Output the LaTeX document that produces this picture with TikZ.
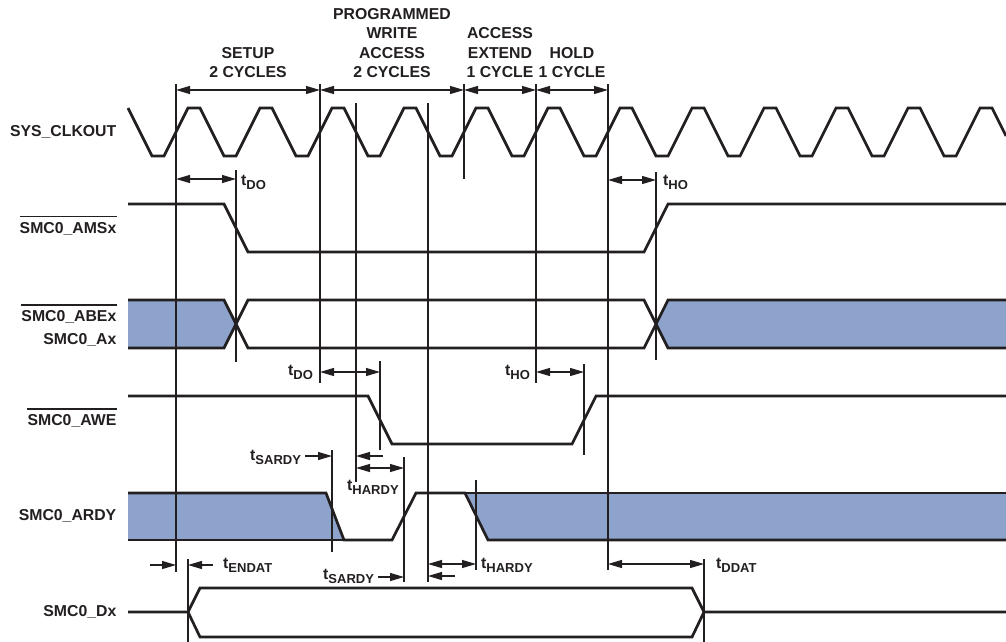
\documentclass[tikz,border=0pt]{standalone}
\usepackage{fontspec}
\setmainfont{Liberation Sans}
\usetikzlibrary{arrows.meta}
\definecolor{ink}{RGB}{35,31,32}
\definecolor{busblue}{RGB}{141,163,203}
\newcommand{\tsub}[1]{t\raisebox{-4pt}{\fontsize{13}{13}\selectfont #1}}
\tikzset{
  sig/.style={line width=2.7pt},
  vline/.style={line width=1.1pt},
  tarrow/.style={line width=1.2pt},
  busfill/.style={fill=busblue},
}
\begin{document}
\begin{tikzpicture}[x=1pt,y=-1pt,color=ink,>={Triangle[length=14pt,width=8pt]},
  every node/.style={font=\bfseries\fontsize{15.8}{19.5}\selectfont,inner sep=0pt,text=ink}]
\useasboundingbox (0,0) rectangle (1006,642);
\node [anchor=base east] (clk) at (116.5,136) {SYS\_CLKOUT};
\node [anchor=base east] (ams) at (116.5,233.3) {SMC0\_AMSx};
\node [anchor=base east] (abe) at (116.5,321.7) {SMC0\_ABEx};
\node [anchor=base east] (ax) at (116.5,344) {SMC0\_Ax};
\node [anchor=base east] (awe) at (116.5,425.7) {SMC0\_AWE};
\node [anchor=base east] (ardy) at (116.5,520.7) {SMC0\_ARDY};
\node [anchor=base east] (dx) at (116.5,616.7) {SMC0\_Dx};
\foreach \n in {ams,abe,awe}
  \draw [line width=1.2pt] ([yshift=5.5pt]\n.north west) -- ([yshift=5.5pt]\n.north east);

\node [anchor=south,align=center] (setup) at (248,78) {SETUP\\2 CYCLES};
\node [anchor=south,align=center] (write) at (392,78) {PROGRAMMED\\WRITE\\ACCESS\\2 CYCLES};
\node [anchor=south,align=center] (extend) at (500,78) {ACCESS\\EXTEND\\1 CYCLE};
\node [anchor=south,align=center] (hold) at (572,78) {HOLD\\1 CYCLE};

\node [anchor=base west] (tdoa) at (241,185) {\tsub{DO}};
\node [anchor=base west] (thoa) at (663,185) {\tsub{HO}};
\node [anchor=base west] (tdob) at (288,375) {\tsub{DO}};
\node [anchor=base west] (thob) at (505,375) {\tsub{HO}};
\node [anchor=base west] (tsardya) at (250,460) {\tsub{SARDY}};
\node [anchor=base west] (thardya) at (347,490) {\tsub{HARDY}};
\node [anchor=base west] (tsardyb) at (323,579) {\tsub{SARDY}};
\node [anchor=base west] (thardyb) at (481,568) {\tsub{HARDY}};
\node [anchor=base west] (tendat) at (223,568) {\tsub{ENDAT}};
\node [anchor=base west] (tddat) at (716,568) {\tsub{DDAT}};

\fill [busfill] (128,300) -- (224,300) -- (236,324) -- (224,348) -- (128,348) -- cycle;
\fill [busfill] (1006,300) -- (668,300) -- (656,324) -- (668,348) -- (1006,348) -- cycle;
\fill [busfill] (128,493) -- (326,493) -- (344,540) -- (128,540) -- cycle;
\fill [busfill] (465,493) -- (1006,493) -- (1006,540) -- (488,540) -- cycle;

\foreach \x/\a/\b in {176/84/572,188/559/642,236/170/362,320/84/383,332/450/552,
  356/103/482,380/361/450,404/457/582,428/103/582,464/84/179,476/480/570,
  536/84/383,584/364/455,608/84/570,656/172/360,704/559/642}
  \draw [vline] (\x,\a) -- (\x,\b);

\draw [sig] (128,108) \foreach \k in {0,...,11} {-- ++(24,48) -- ++(12,0) -- ++(24,-48) -- ++(12,0)} -- (1006,136);
\draw [sig] (128,204) -- (224,204) -- (248,252) -- (644,252) -- (668,204) -- (1006,204);
\draw [sig] (128,300) -- (224,300) -- (248,348) -- (644,348) -- (668,300) -- (1006,300);
\draw [sig] (128,348) -- (224,348) -- (248,300) -- (644,300) -- (668,348) -- (1006,348);
\draw [sig] (128,396) -- (368,396) -- (392,444) -- (572,444) -- (596,396) -- (1006,396);
\draw [sig] (128,493) -- (326,493) -- (344,540) -- (392,540) -- (416,493) -- (465,493) -- (488,540) -- (1006,540);
\draw [sig] (128,540) -- (344,540);
\draw [sig] (465,493) -- (1006,493);
\draw [sig] (128,612) -- (188,612) -- (200,588) -- (692,588) -- (704,612) -- (1006,612);
\draw [sig] (188,612) -- (200,637) -- (692,637) -- (704,612);

\draw [tarrow,<->] (176,90) -- (320,90);
\draw [tarrow,<->] (320,90) -- (464,90);
\draw [tarrow,<->] (464,90) -- (536,90);
\draw [tarrow,<->] (536,90) -- (608,90);
\draw [tarrow,<->] (176,179) -- (236,179);
\draw [tarrow,<->] (608,180) -- (656,180);
\draw [tarrow,<->] (320,372) -- (380,372);
\draw [tarrow,<->] (536,372) -- (584,372);
\draw [tarrow,->] (305,456) -- (332,456);
\draw [tarrow,->] (383,456) -- (356,456);
\draw [tarrow,<->] (356,468) -- (404,468);
\draw [tarrow,->] (378,577) -- (404,577);
\draw [tarrow,<->] (428,564) -- (476,564);
\draw [tarrow,->] (455,576) -- (428,576);
\draw [tarrow,->] (150,565) -- (176,565);
\draw [tarrow,->] (213,565) -- (188,565);
\draw [tarrow,<->] (608,564) -- (704,564);
\end{tikzpicture}
\end{document}
